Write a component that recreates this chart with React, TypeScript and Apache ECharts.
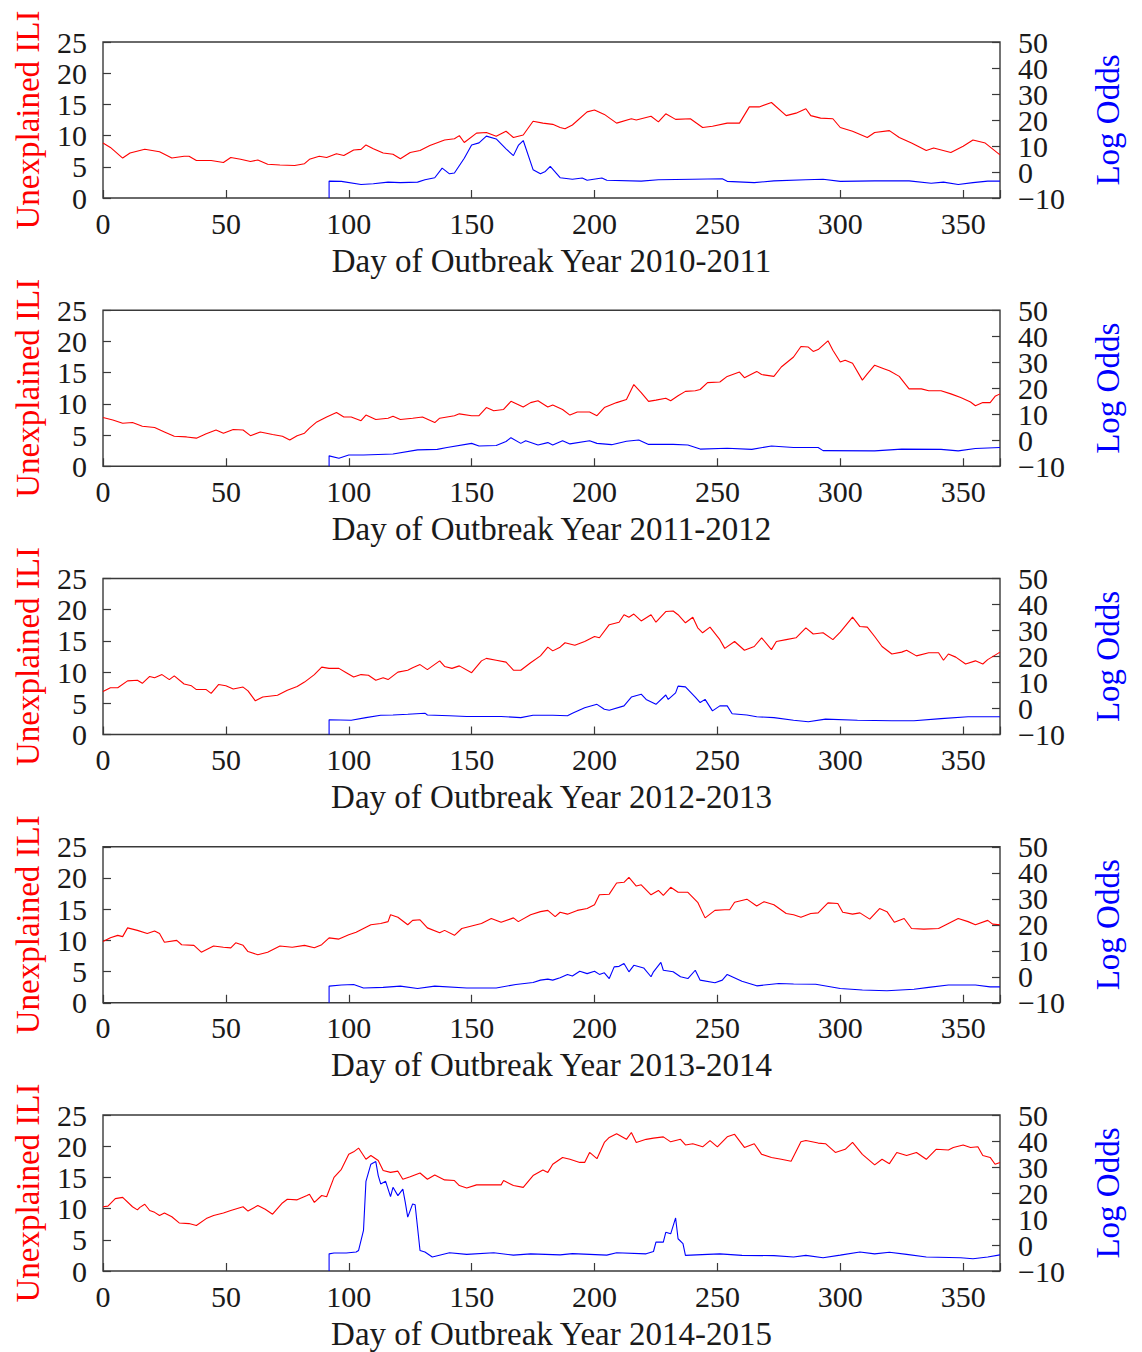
import React, { useEffect, useRef } from "react";
import * as echarts from "echarts";

const seasons = ["2010-2011", "2011-2012", "2012-2013", "2013-2014", "2014-2015"];
const dayTicks = [0, 50, 100, 150, 200, 250, 300, 350];
const iliTicks = [0, 5, 10, 15, 20, 25];
const oddsTicks = [-10, 0, 10, 20, 30, 40, 50];

const ili2010 = [[0,8.8],[3,8.1],[8,6.4],[11,7.2],[17,7.8],[23,7.4],[28,6.4],[33,6.7],[35,6.7],[38,6.0],[44,6.0],[49,5.7],[52,6.5],[56,6.2],[60,5.85],[63,6.1],[67,5.4],[72,5.3],[78,5.2],[82,5.5],[84,6.2],[88,6.7],[91,6.5],[95,7.1],[98,6.8],[102,7.7],[105,7.8],[107,8.5],[110,7.9],[114,7.2],[118,7.0],[121,6.3],[125,7.3],[129,7.6],[133,8.4],[139,9.3],[143,9.5],[145,10.0],[147,8.9],[152,10.4],[156,10.5],[160,9.9],[164,10.7],[167,9.7],[171,10.1],[175,12.3],[179,12.0],[183,11.8],[186,11.3],[188,11.1],[191,11.7],[197,13.8],[200,14.1],[204,13.4],[209,12.0],[215,12.7],[217,12.5],[223,13.1],[226,12.2],[229,13.5],[233,12.6],[239,12.7],[244,11.3],[248,11.5],[254,12.0],[259,12.0],[263,14.6],[267,14.6],[272,15.3],[278,13.2],[282,13.6],[286,14.3],[288,13.2],[292,12.8],[297,12.7],[300,11.3],[305,10.7],[311,9.7],[314,10.5],[320,10.8],[324,9.7],[329,8.8],[335,7.6],[338,8.0],[345,7.3],[350,8.3],[354,9.3],[359,8.8],[365,6.9]];
const odds2010 = [[92,-10],[92,-3.5],[97,-3.6],[105,-4.8],[110,-4.5],[116,-3.9],[121,-4.1],[128,-3.9],[131,-3.0],[135,-2.2],[138,1.5],[141,-0.7],[143,-0.4],[147,5.3],[150,10.4],[153,11.2],[156,13.8],[160,12.7],[164,8.9],[167,6.3],[169,10.2],[171,12.1],[175,0.9],[178,-0.7],[180,0.2],[182,2.2],[186,-2.2],[191,-2.8],[195,-2.3],[197,-3.2],[203,-2.3],[205,-3.2],[219,-3.5],[226,-3.0],[240,-2.8],[252,-2.6],[254,-3.6],[265,-4.1],[273,-3.4],[286,-3.0],[293,-2.8],[300,-3.6],[314,-3.4],[328,-3.4],[337,-4.3],[342,-3.9],[348,-4.8],[354,-4.1],[360,-3.5],[365,-3.5]];

const ili2011 = [[0,7.8],[4,7.4],[8,6.9],[12,7.0],[16,6.4],[21,6.2],[25,5.5],[29,4.8],[34,4.7],[38,4.5],[42,5.2],[46,5.8],[49,5.3],[53,5.9],[57,5.8],[60,4.9],[64,5.5],[69,5.1],[73,4.8],[76,4.2],[79,4.9],[82,5.3],[84,6.1],[87,7.1],[91,7.9],[95,8.6],[98,7.9],[101,7.9],[105,7.3],[107,8.2],[111,7.5],[116,7.7],[118,8.0],[121,7.5],[126,7.7],[130,7.9],[135,7.0],[137,7.7],[143,8.1],[145,8.4],[150,8.1],[153,8.1],[156,9.4],[159,8.9],[163,9.1],[166,10.4],[171,9.5],[174,10.2],[177,10.5],[181,9.5],[183,9.8],[187,9.1],[190,8.2],[193,8.7],[198,8.7],[201,8.1],[204,9.4],[209,10.2],[213,10.7],[216,13.1],[219,11.8],[222,10.4],[225,10.6],[229,10.9],[231,10.5],[234,11.3],[237,12.0],[241,12.1],[243,12.3],[246,13.4],[251,13.5],[254,14.4],[259,15.1],[261,14.2],[266,15.2],[268,14.7],[273,14.4],[276,15.9],[281,17.5],[284,19.2],[287,19.1],[289,18.4],[291,18.7],[295,20.1],[297,18.6],[300,16.7],[302,17.0],[305,16.5],[309,13.8],[311,14.8],[314,16.2],[318,15.6],[320,15.3],[324,14.4],[328,12.4],[333,12.4],[336,12.1],[341,12.1],[345,11.6],[349,11.0],[353,10.3],[355,9.7],[358,10.2],[361,10.2],[363,11.2],[365,11.6]];
const odds2011 = [[92,-10],[92,-6.0],[96,-6.9],[100,-5.7],[106,-5.7],[118,-5.3],[128,-3.7],[136,-3.5],[140,-2.8],[150,-1.2],[153,-2.2],[160,-2.0],[164,-0.5],[166,1.0],[170,-1.2],[172,-0.2],[177,-1.8],[181,-0.9],[183,-1.8],[187,-0.2],[190,-1.4],[198,-0.2],[201,-1.2],[207,-1.7],[213,-0.4],[218,0.1],[222,-1.6],[232,-1.6],[238,-1.8],[243,-3.4],[254,-3.1],[264,-3.5],[272,-2.2],[281,-2.8],[291,-2.8],[293,-4.0],[314,-4.1],[325,-3.4],[341,-3.5],[348,-4.1],[355,-3.2],[365,-2.8]];

const ili2012 = [[0,6.9],[3,7.5],[6,7.5],[10,8.6],[14,8.7],[16,8.2],[19,9.3],[21,9.1],[24,9.6],[27,8.8],[29,9.4],[33,8.1],[36,7.8],[38,7.2],[42,7.2],[44,6.6],[47,8.0],[50,7.8],[53,7.3],[57,7.6],[59,7.0],[62,5.4],[65,6.0],[71,6.3],[75,7.1],[79,7.7],[82,8.4],[86,9.6],[89,10.8],[92,10.6],[96,10.6],[99,9.9],[102,9.2],[105,9.6],[108,9.5],[111,8.7],[114,9.1],[116,8.8],[120,10.0],[124,10.3],[126,10.7],[129,11.2],[132,10.4],[137,11.8],[139,10.9],[142,10.6],[145,11.0],[150,9.9],[154,11.8],[156,12.2],[160,11.9],[164,11.6],[167,10.3],[170,10.3],[174,11.5],[178,12.6],[181,14.0],[183,13.4],[186,14.0],[188,14.7],[192,14.3],[196,14.9],[200,15.7],[202,15.5],[206,17.6],[210,18.0],[212,19.2],[214,18.8],[216,19.3],[219,18.2],[223,19.2],[225,18.0],[229,19.7],[232,19.8],[234,19.2],[237,17.9],[240,18.8],[242,17.1],[244,16.3],[247,17.2],[251,15.2],[253,13.8],[257,14.9],[261,13.5],[265,14.1],[268,15.5],[272,13.6],[274,14.9],[278,15.2],[282,15.5],[286,17.1],[289,16.1],[293,16.3],[297,15.2],[300,16.4],[305,18.8],[308,17.3],[311,17.2],[314,15.7],[317,14.1],[321,12.9],[325,13.2],[327,13.5],[331,12.6],[336,13.1],[340,13.1],[342,11.9],[344,12.9],[347,12.4],[351,11.3],[355,11.8],[358,11.3],[360,12.0],[365,13.2]];
const odds2012 = [[92,-10],[92,-4.3],[101,-4.5],[107,-3.5],[113,-2.6],[118,-2.5],[124,-2.2],[131,-1.8],[132,-2.5],[141,-2.8],[148,-3.1],[162,-3.1],[170,-3.5],[175,-2.6],[183,-2.6],[189,-2.8],[191,-1.8],[196,0.3],[201,1.6],[204,-0.3],[206,-0.7],[212,1.0],[215,4.4],[219,5.5],[221,3.5],[225,1.6],[229,5.2],[230,3.5],[233,6.0],[234,8.6],[237,8.3],[241,4.4],[243,2.3],[245,3.5],[248,-0.9],[251,1.0],[254,1.0],[256,-2.0],[262,-2.5],[266,-3.2],[273,-3.5],[281,-4.5],[287,-5.1],[294,-4.1],[307,-4.5],[321,-4.7],[330,-4.7],[341,-3.9],[352,-3.2],[365,-3.2]];

const ili2013 = [[0,9.8],[3,10.4],[6,10.8],[8,10.6],[10,12.0],[14,11.6],[18,11.1],[21,11.5],[23,11.1],[25,9.7],[30,10.0],[32,9.3],[37,9.2],[40,8.1],[45,9.1],[49,8.9],[52,8.8],[54,9.6],[57,9.2],[59,8.2],[63,7.7],[67,8.1],[72,9.1],[77,8.9],[82,9.2],[86,8.8],[89,9.3],[92,10.4],[96,10.2],[100,10.9],[103,11.3],[107,12.1],[109,12.5],[113,12.7],[116,13.0],[117,14.1],[120,13.7],[124,12.5],[126,13.2],[129,13.3],[132,12.0],[137,11.2],[139,11.6],[143,10.8],[146,11.9],[150,12.3],[154,12.7],[158,13.5],[162,12.9],[167,13.6],[169,13.0],[174,14.1],[178,14.6],[181,14.8],[184,13.8],[186,14.5],[189,14.2],[193,14.8],[197,15.1],[200,15.7],[202,17.3],[206,17.4],[209,19.2],[212,19.3],[214,20.1],[217,18.7],[219,18.9],[223,17.3],[226,18.0],[228,17.2],[231,18.5],[234,17.7],[238,17.7],[242,16.1],[245,13.6],[249,14.8],[253,14.9],[255,14.9],[257,16.1],[262,16.6],[266,15.5],[269,16.2],[273,15.7],[278,14.3],[281,14.1],[284,13.7],[288,14.3],[291,14.4],[295,16.0],[299,15.9],[301,14.5],[305,14.2],[308,14.4],[312,13.4],[316,15.1],[319,14.6],[322,12.9],[326,13.5],[329,11.9],[334,11.8],[340,11.9],[343,12.5],[348,13.5],[352,13.0],[355,12.5],[360,13.2],[362,12.6],[365,12.5]];
const odds2013 = [[92,-10],[92,-3.6],[97,-3.2],[102,-3.0],[106,-4.3],[114,-4.1],[121,-3.6],[128,-4.5],[135,-3.6],[148,-4.3],[160,-4.3],[168,-3.0],[175,-2.2],[178,-1.3],[181,-0.9],[183,-1.3],[186,-0.4],[189,0.9],[191,0.3],[194,2.1],[197,1.2],[200,2.1],[202,0.9],[204,1.5],[206,-0.7],[208,3.8],[210,4.0],[212,5.1],[214,1.9],[216,4.4],[220,3.4],[223,0.0],[224,1.9],[227,5.5],[228,2.5],[232,1.9],[235,0.0],[238,-0.7],[241,2.5],[243,-1.3],[249,-2.3],[252,-1.3],[254,0.9],[260,-1.7],[266,-3.5],[275,-2.6],[281,-2.8],[290,-2.9],[300,-4.5],[309,-5.1],[319,-5.4],[330,-4.8],[336,-4.1],[344,-3.2],[355,-3.2],[361,-3.9],[365,-3.9]];

const ili2014 = [[0,10.3],[2,10.4],[5,11.6],[8,11.8],[12,10.3],[14,9.8],[15,10.2],[17,10.7],[19,9.7],[21,9.4],[23,8.9],[25,9.3],[28,8.7],[31,7.7],[35,7.6],[38,7.3],[42,8.4],[45,8.9],[49,9.3],[52,9.7],[57,10.3],[59,9.6],[63,10.5],[66,9.9],[69,9.1],[73,10.9],[75,11.5],[79,11.4],[83,12.1],[84,12.3],[86,11.0],[89,12.1],[91,11.9],[94,15.0],[97,16.3],[100,18.7],[102,19.1],[104,19.7],[107,17.9],[109,18.5],[112,17.7],[114,16.1],[117,15.8],[120,16.0],[122,14.7],[125,15.1],[129,15.7],[132,14.7],[135,15.4],[139,14.6],[143,14.5],[145,13.7],[148,13.3],[152,13.8],[162,13.8],[163,14.5],[167,13.7],[171,13.4],[175,15.3],[179,16.2],[181,15.8],[183,17.1],[187,18.2],[190,17.9],[194,17.4],[196,17.4],[198,19.0],[201,18.0],[204,20.6],[206,21.4],[209,22.0],[213,21.1],[215,22.2],[217,20.6],[221,21.1],[224,21.3],[228,21.5],[231,20.7],[235,21.1],[237,20.2],[240,20.4],[244,19.9],[247,20.9],[250,19.9],[254,21.5],[257,21.9],[261,19.8],[265,20.4],[268,18.7],[272,18.2],[276,17.9],[280,17.6],[284,20.7],[286,20.9],[291,20.5],[294,20.4],[298,19.0],[302,19.5],[305,20.6],[309,18.7],[314,17.0],[317,17.9],[320,17.2],[323,19.0],[327,18.5],[331,19.0],[335,17.9],[339,19.5],[344,19.4],[346,19.8],[350,20.2],[353,19.8],[356,19.9],[358,18.5],[361,18.2],[363,17.1],[365,17.4]];
const odds2014 = [[92,-10],[92,-3.4],[94,-3.1],[99,-3.1],[103,-2.7],[104,-2.1],[106,5.6],[107,24.5],[109,31.1],[111,32.1],[112,26.7],[113,23.5],[115,24.5],[117,18.6],[118,22.2],[120,19.0],[122,21.5],[123,16.4],[124,10.7],[126,15.8],[127,15.5],[129,-2.1],[131,-2.7],[134,-4.6],[141,-3.0],[148,-3.6],[159,-3.0],[167,-3.9],[174,-3.4],[186,-3.8],[191,-3.3],[205,-3.9],[209,-3.0],[221,-3.4],[224,-2.5],[225,1.1],[228,1.1],[229,4.9],[231,4.3],[233,10.4],[234,2.4],[236,0.5],[237,-4.0],[246,-3.6],[251,-3.4],[260,-4.0],[273,-4.1],[281,-4.6],[286,-4.0],[293,-4.9],[300,-3.9],[308,-2.7],[314,-3.4],[320,-2.8],[327,-3.6],[335,-4.6],[349,-4.9],[354,-5.3],[360,-4.6],[365,-3.8]];

const iliSeries = [ili2010, ili2011, ili2012, ili2013, ili2014];
const oddsSeries = [odds2010, odds2011, odds2012, odds2013, odds2014];

const FONT = "Liberation Serif";
const RED = "#ff0000";
const BLUE = "#0000ff";
const INK = "#1a1a1a";
const FRAME = "#3a3a3a";

const fmtOdds = (v: number) => (v < 0 ? "\u2212" + Math.abs(v) : String(v));

export default function App() {
  const ref = useRef<HTMLDivElement>(null);
  useEffect(() => {
    const chart = echarts.init(ref.current!, null, { renderer: "svg" });
    const grids: any[] = [];
    const xAxes: any[] = [];
    const yAxes: any[] = [];
    const series: any[] = [];
    seasons.forEach((season, i) => {
      grids.push({
        left: 103,
        top: 42 + 268.25 * i,
        width: 897,
        height: 156,
        show: true,
        borderColor: FRAME,
        borderWidth: 1.4,
        backgroundColor: "transparent",
      });
      xAxes.push({
        type: "value",
        gridIndex: i,
        min: 0,
        max: 365,
        interval: 50,
        name: "Day of Outbreak Year " + season,
        nameLocation: "middle",
        nameGap: 46,
        nameTextStyle: { fontFamily: FONT, fontSize: 33, color: INK },
        axisLine: { show: false },
        axisTick: { inside: true, length: 8, lineStyle: { color: FRAME, width: 1.2 } },
        axisLabel: {
          fontFamily: FONT,
          fontSize: 30,
          color: INK,
          margin: 10,
          formatter: (v: number) => (dayTicks.includes(v) ? String(v) : ""),
        },
        splitLine: { show: false },
      });
      yAxes.push({
        type: "value",
        gridIndex: i,
        position: "left",
        min: iliTicks[0],
        max: iliTicks[iliTicks.length - 1],
        interval: 5,
        name: "Unexplained ILI",
        nameLocation: "middle",
        nameRotate: 90,
        nameGap: 59,
        nameTextStyle: { fontFamily: FONT, fontSize: 33, color: RED },
        axisLine: { show: false },
        axisTick: { inside: true, length: 8, lineStyle: { color: FRAME, width: 1.2 } },
        axisLabel: {
          fontFamily: FONT,
          fontSize: 30,
          lineHeight: 26,
          color: INK,
          margin: 16,
          showMinLabel: true,
          showMaxLabel: true,
        },
        splitLine: { show: false },
      });
      yAxes.push({
        type: "value",
        gridIndex: i,
        position: "right",
        min: oddsTicks[0],
        max: oddsTicks[oddsTicks.length - 1],
        interval: 10,
        name: "Log Odds",
        nameLocation: "middle",
        nameRotate: 90,
        nameGap: 91,
        nameTextStyle: { fontFamily: FONT, fontSize: 33, color: BLUE },
        axisLine: { show: false },
        axisTick: { inside: true, length: 8, lineStyle: { color: FRAME, width: 1.2 } },
        axisLabel: { show: false },
        splitLine: { show: false },
      });
      series.push({
        type: "line",
        name: "Unexplained ILI " + season,
        xAxisIndex: i,
        yAxisIndex: 2 * i,
        data: iliSeries[i],
        showSymbol: false,
        lineStyle: { color: RED, width: 1.1 },
        itemStyle: { color: RED },
      });
      series.push({
        type: "line",
        name: "Log Odds " + season,
        xAxisIndex: i,
        yAxisIndex: 2 * i + 1,
        data: oddsSeries[i],
        showSymbol: false,
        lineStyle: { color: BLUE, width: 1.1 },
        itemStyle: { color: BLUE },
      });
    });
    chart.setOption({
      animation: false,
      backgroundColor: "#ffffff",
      textStyle: { fontFamily: FONT },
      grid: grids,
      xAxis: xAxes,
      yAxis: yAxes,
      series,
    });
    // Right-axis tick labels placed through the axis scale (the built-in ones get thinned when close together)
    const labels: any[] = [];
    seasons.forEach((_, i) => {
      oddsTicks.forEach((v) => {
        const y = chart.convertToPixel({ yAxisIndex: 2 * i + 1 } as any, v) as number;
        labels.push({
          type: "text",
          x: 1018,
          y,
          silent: true,
          style: {
            text: fmtOdds(v),
            fontFamily: FONT,
            fontSize: 30,
            lineHeight: 24,
            fill: INK,
            align: "left",
            verticalAlign: "middle",
          },
        });
      });
    });
    chart.setOption({ graphic: labels });
    return () => chart.dispose();
  }, []);
  return (
    <div
      ref={ref}
      style={{ position: "absolute", left: 0, top: 0, width: 1142, height: 1352 }}
    />
  );
}
